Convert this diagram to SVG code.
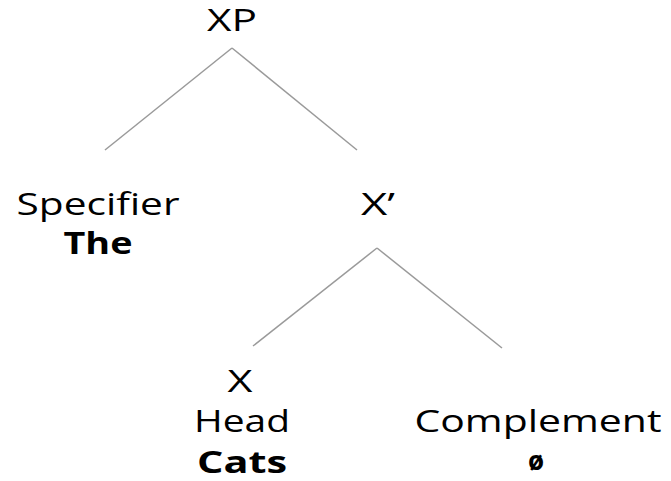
<svg xmlns="http://www.w3.org/2000/svg" width="671" height="481" viewBox="0 0 671 481">
<style>
.t{font-family:"Open Sans","Liberation Sans",sans-serif;font-size:31px;font-weight:400;fill:#000;text-anchor:middle}
.b{font-weight:700}
.e{stroke:#9a9a9a;stroke-width:1.5;fill:none}
</style>
<rect width="671" height="481" fill="#fff"/>
<g id="connectors">
<line class="e" x1="232" y1="48" x2="105" y2="150"/>
<line class="e" x1="232" y1="48" x2="357" y2="150"/>
<line class="e" x1="377" y1="248" x2="253" y2="346"/>
<line class="e" x1="377" y1="248" x2="502" y2="348"/>
</g>
<g id="XP"><text class="t" x="232" y="31" textLength="50" lengthAdjust="spacingAndGlyphs">XP</text></g>
<g id="Specifier"><text class="t" x="98" y="215" textLength="163" lengthAdjust="spacingAndGlyphs">Specifier</text>
<text class="t b" x="98" y="254" textLength="69" lengthAdjust="spacingAndGlyphs">The</text></g>
<g id="Xbar"><text class="t" x="378" y="215" textLength="34" lengthAdjust="spacingAndGlyphs">X’</text></g>
<g id="X"><text class="t" x="240" y="392" textLength="25" lengthAdjust="spacingAndGlyphs">X</text>
<text class="t" x="242" y="432" textLength="96" lengthAdjust="spacingAndGlyphs">Head</text>
<text class="t b" x="242" y="473" textLength="90" lengthAdjust="spacingAndGlyphs">Cats</text></g>
<g id="Complement"><text class="t" x="538" y="432" textLength="247" lengthAdjust="spacingAndGlyphs">Complement</text>
<text class="t b" x="536" y="470" style="font-size:26px">ø</text></g>
</svg>
